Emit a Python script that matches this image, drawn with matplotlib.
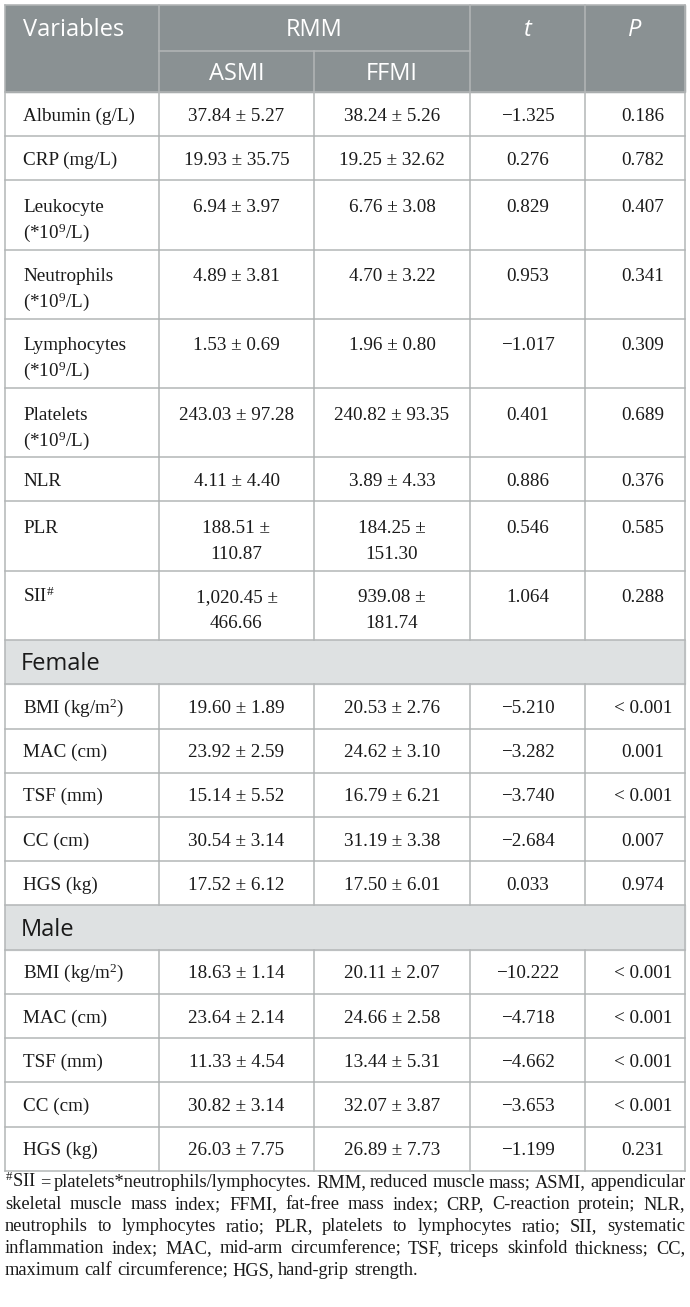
import matplotlib
matplotlib.use("Agg")
import matplotlib.pyplot as plt
from matplotlib.patches import Rectangle

plt.rcParams['mathtext.fontset'] = 'custom'
plt.rcParams['mathtext.rm'] = 'Liberation Serif'
plt.rcParams['mathtext.it'] = 'Liberation Serif:italic'
plt.rcParams['mathtext.default'] = 'regular'

# table content
general_vars = ["Albumin (g/L)", "CRP (mg/L)", "Leukocyte\n(*10$^9$/L)", "Neutrophils\n(*10$^9$/L)",
                "Lymphocytes\n(*10$^9$/L)", "Platelets\n(*10$^9$/L)", "NLR", "PLR", "SII$^{\\#}$"]
general_asmi = ["37.84 ± 5.27", "19.93 ± 35.75", "6.94 ± 3.97", "4.89 ± 3.81", "1.53 ± 0.69",
                "243.03 ± 97.28", "4.11 ± 4.40", "188.51 ±\n110.87", "1,020.45 ±\n466.66"]
general_ffmi = ["38.24 ± 5.26", "19.25 ± 32.62", "6.76 ± 3.08", "4.70 ± 3.22", "1.96 ± 0.80",
                "240.82 ± 93.35", "3.89 ± 4.33", "184.25 ±\n151.30", "939.08 ±\n181.74"]
general_t = ["−1.325", "0.276", "0.829", "0.953", "−1.017", "0.401", "0.886", "0.546", "1.064"]
general_p = ["0.186", "0.782", "0.407", "0.341", "0.309", "0.689", "0.376", "0.585", "0.288"]

sex_vars = ["BMI (kg/m$^2$)", "MAC (cm)", "TSF (mm)", "CC (cm)", "HGS (kg)"]
female_asmi = ["19.60 ± 1.89", "23.92 ± 2.59", "15.14 ± 5.52", "30.54 ± 3.14", "17.52 ± 6.12"]
female_ffmi = ["20.53 ± 2.76", "24.62 ± 3.10", "16.79 ± 6.21", "31.19 ± 3.38", "17.50 ± 6.01"]
female_t = ["−5.210", "−3.282", "−3.740", "−2.684", "0.033"]
female_p = ["< 0.001", "0.001", "< 0.001", "0.007", "0.974"]
male_asmi = ["18.63 ± 1.14", "23.64 ± 2.14", "11.33 ± 4.54", "30.82 ± 3.14", "26.03 ± 7.75"]
male_ffmi = ["20.11 ± 2.07", "24.66 ± 2.58", "13.44 ± 5.31", "32.07 ± 3.87", "26.89 ± 7.73"]
male_t = ["−10.222", "−4.718", "−4.662", "−3.653", "−1.199"]
male_p = ["< 0.001", "< 0.001", "< 0.001", "< 0.001", "0.231"]

footnote = [
    "$^{\\#}$SII = platelets*neutrophils/lymphocytes. RMM, reduced muscle mass; ASMI, appendicular",
    "skeletal muscle mass index; FFMI, fat-free mass index; CRP, C-reaction protein; NLR,",
    "neutrophils to lymphocytes ratio; PLR, platelets to lymphocytes ratio; SII, systematic",
    "inflammation index; MAC, mid-arm circumference; TSF, triceps skinfold thickness; CC,",
    "maximum calf circumference; HGS, hand-grip strength.",
]

# build row list: (kind, cells)
rows = [("data", r) for r in zip(general_vars, general_asmi, general_ffmi, general_t, general_p)]
rows.append(("section", "Female"))
rows += [("data", r) for r in zip(sex_vars, female_asmi, female_ffmi, female_t, female_p)]
rows.append(("section", "Male"))
rows += [("data", r) for r in zip(sex_vars, male_asmi, male_ffmi, male_t, male_p)]

W, H = 690, 1307
fig = plt.figure(figsize=(W / 100, H / 100), dpi=100)
ax = fig.add_axes([0, 0, 1, 1])
ax.set_xlim(0, W)
ax.set_ylim(H, 0)
ax.axis("off")

HEAD_BG = "#8a9193"
SEC_BG = "#dee1e2"
LINE = "#b3b6b7"
TXT = "#1a1a1a"
serif = "Liberation Serif"
sans = "Open Sans"
fs_body = 13.8
fs_head = 17

left, right = 5, 685
cols = [left, 159, 314, 470, 585, right]
val_x = [(159 + 314) / 2, (314 + 470) / 2, (470 + 585) / 2, 643]
lw = 1.1

# header
top, mid, hbot = 5, 51, 92
ax.add_patch(Rectangle((left, top), right - left, hbot - top, color=HEAD_BG, zorder=0))
ax.plot([159, 470], [mid, mid], color=LINE, lw=lw)
for x in [159, 470, 585]:
    ax.plot([x, x], [top, hbot], color=LINE, lw=lw)
ax.plot([314, 314], [mid, hbot], color=LINE, lw=lw)
ax.text(23, 28 + 8, "Variables", fontsize=fs_head, family=sans, color="white", va="baseline")
ax.text((159 + 470) / 2, 28 + 8, "RMM", fontsize=fs_head, family=sans, color="white",
        va="baseline", ha="center")
ax.text((470 + 585) / 2, 28 + 8, "t", fontsize=fs_head, family=sans, style="italic",
        color="white", va="baseline", ha="center")
ax.text((585 + right) / 2, 28 + 8, "P", fontsize=fs_head, family=sans, style="italic",
        color="white", va="baseline", ha="center")
ax.text(val_x[0], 71.5 + 8, "ASMI", fontsize=fs_head, family=sans, color="white",
        va="baseline", ha="center")
ax.text(val_x[1], 71.5 + 8, "FFMI", fontsize=fs_head, family=sans, color="white",
        va="baseline", ha="center")

# body
y = hbot
for kind, cells in rows:
    if kind == "section":
        h = 44.5
        ax.add_patch(Rectangle((left, y), right - left, h, color=SEC_BG, zorder=0))
        ax.text(21, y + h / 2 + 8, cells, fontsize=fs_head, family=sans, color=TXT, va="baseline")
    else:
        nlines = max(c.count("\n") + 1 for c in cells)
        h = 44.2 if nlines == 1 else 69.2
        first = y + h / 2 if nlines == 1 else y + 25
        for x in cols[1:-1]:
            ax.plot([x, x], [y, y + h], color=LINE, lw=lw)
        for ci, cell in enumerate(cells):
            for li, line in enumerate(cell.split("\n")):
                yy = first + li * 26 + 6.5
                if ci == 0:
                    ax.text(23, yy, line, fontsize=fs_body, family=serif, color=TXT, va="baseline")
                else:
                    ax.text(val_x[ci - 1], yy, line, fontsize=fs_body, family=serif, color=TXT,
                            va="baseline", ha="center")
    ax.plot([left, right], [y, y], color=LINE, lw=lw)
    y += h
bottom = y
ax.plot([left, right], [bottom, bottom], color=LINE, lw=lw)
ax.plot([left, right], [top, top], color=LINE, lw=lw)
ax.plot([left, left], [top, bottom], color=LINE, lw=lw)
ax.plot([right, right], [top, bottom], color=LINE, lw=lw)

# footnote, justified
renderer = fig.canvas.get_renderer()
fy = 1182
for i, line in enumerate(footnote):
    base = fy + i * 22 + 5
    words = line.split(" ")
    texts = [ax.text(0, base, w, fontsize=13.2, family=serif, color=TXT, va="baseline")
             for w in words]
    widths = [t.get_window_extent(renderer).width for t in texts]
    if i < len(footnote) - 1:
        gap = (right - left - sum(widths)) / (len(words) - 1)
    else:
        gap = 13.2 * 0.25 * 100 / 72
    x = left
    for t, w in zip(texts, widths):
        t.set_x(x)
        x += w + gap

fig.savefig("out.png", dpi=100)
